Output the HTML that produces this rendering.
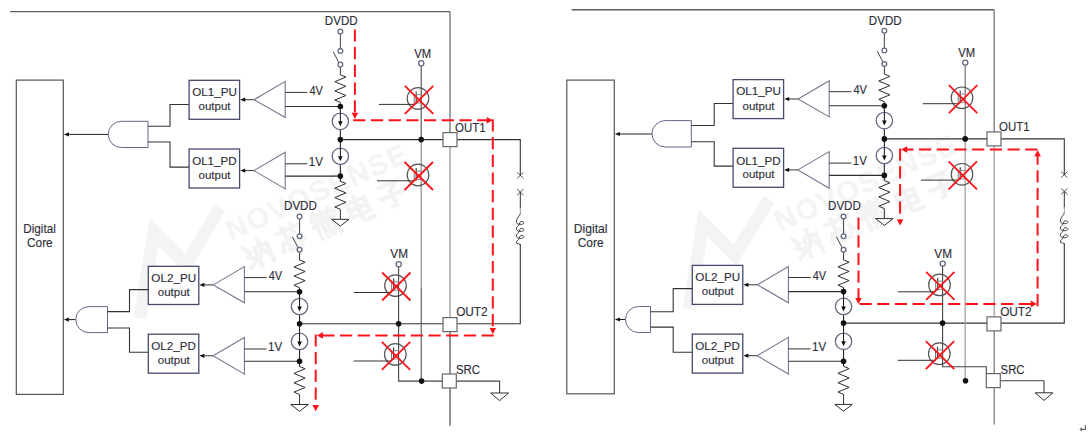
<!DOCTYPE html>
<html><head><meta charset="utf-8"><title>circuit</title>
<style>html,body{margin:0;padding:0;background:#fff;width:1092px;height:448px;overflow:hidden}</style>
</head><body><svg width="1092" height="448" viewBox="0 0 1092 448" style="display:block;font-family:'Liberation Sans',sans-serif"><rect width="100%" height="100%" fill="#fff"/><g transform="translate(0,0)"><polyline points="140,318 154,232 186,264 220,208" fill="none" stroke="#f4f4f4" stroke-width="13" stroke-linejoin="miter"/><text x="0" y="0" font-size="29" font-weight="bold" fill="#f4f4f4" letter-spacing="1.5" transform="translate(231,241) rotate(-24)">NOVOSENSE</text><path d="M2,3 L6,9 L3,12 L8,15 M2,21 L9,17 M11,7 L11,23 M11,7 L22,7 L22,23 M16,1 L16,10 L12,17 M16,10 L21,17" fill="none" stroke="#f3f3f3" stroke-width="3.6" stroke-linecap="square" transform="translate(258,253) rotate(-24) scale(1.2) translate(-12,-12)"/><path d="M2,4 L22,4 M8,1 L8,8 M16,1 L16,8 M4,13 L2,20 M8,11 L8,21 L18,21 L19,17 M12,12 L14,15 M20,12 L22,16" fill="none" stroke="#f3f3f3" stroke-width="3.6" stroke-linecap="square" transform="translate(291.5,238.2) rotate(-24) scale(1.2) translate(-12,-12)"/><path d="M6,1 L2,6 M7,6 L2,12 M5,10 L5,23 M9,3 L9,8 L15,8 L15,3 M12,1 L12,8 M9,11 L15,11 M10,14 L10,23 M14,14 L14,22 M19,1 L17,7 M17,5 L23,5 M18,9 L22,23 M22,9 L16,23" fill="none" stroke="#f3f3f3" stroke-width="3.6" stroke-linecap="square" transform="translate(325,223.4) rotate(-24) scale(1.2) translate(-12,-12)"/><path d="M4,5 L20,5 L20,17 L4,17 Z M4,11 L20,11 M12,1 L12,20 Q12,23 16,23 L22,23" fill="none" stroke="#f3f3f3" stroke-width="3.6" stroke-linecap="square" transform="translate(358.5,208.6) rotate(-24) scale(1.2) translate(-12,-12)"/><path d="M4,3 L19,3 L12,9 M12,9 L12,22 L9,22 M2,13 L22,13" fill="none" stroke="#f3f3f3" stroke-width="3.6" stroke-linecap="square" transform="translate(392,193.8) rotate(-24) scale(1.2) translate(-12,-12)"/></g><g transform="translate(549,-9)"><polyline points="140,318 154,232 186,264 220,208" fill="none" stroke="#f4f4f4" stroke-width="13" stroke-linejoin="miter"/><text x="0" y="0" font-size="29" font-weight="bold" fill="#f4f4f4" letter-spacing="1.5" transform="translate(231,241) rotate(-24)">NOVOSENSE</text><path d="M2,3 L6,9 L3,12 L8,15 M2,21 L9,17 M11,7 L11,23 M11,7 L22,7 L22,23 M16,1 L16,10 L12,17 M16,10 L21,17" fill="none" stroke="#f3f3f3" stroke-width="3.6" stroke-linecap="square" transform="translate(258,253) rotate(-24) scale(1.2) translate(-12,-12)"/><path d="M2,4 L22,4 M8,1 L8,8 M16,1 L16,8 M4,13 L2,20 M8,11 L8,21 L18,21 L19,17 M12,12 L14,15 M20,12 L22,16" fill="none" stroke="#f3f3f3" stroke-width="3.6" stroke-linecap="square" transform="translate(291.5,238.2) rotate(-24) scale(1.2) translate(-12,-12)"/><path d="M6,1 L2,6 M7,6 L2,12 M5,10 L5,23 M9,3 L9,8 L15,8 L15,3 M12,1 L12,8 M9,11 L15,11 M10,14 L10,23 M14,14 L14,22 M19,1 L17,7 M17,5 L23,5 M18,9 L22,23 M22,9 L16,23" fill="none" stroke="#f3f3f3" stroke-width="3.6" stroke-linecap="square" transform="translate(325,223.4) rotate(-24) scale(1.2) translate(-12,-12)"/><path d="M4,5 L20,5 L20,17 L4,17 Z M4,11 L20,11 M12,1 L12,20 Q12,23 16,23 L22,23" fill="none" stroke="#f3f3f3" stroke-width="3.6" stroke-linecap="square" transform="translate(358.5,208.6) rotate(-24) scale(1.2) translate(-12,-12)"/><path d="M4,3 L19,3 L12,9 M12,9 L12,22 L9,22 M2,13 L22,13" fill="none" stroke="#f3f3f3" stroke-width="3.6" stroke-linecap="square" transform="translate(392,193.8) rotate(-24) scale(1.2) translate(-12,-12)"/></g><line x1="10" y1="11.6" x2="450" y2="11.6" stroke="#5e5e5e" stroke-width="1.4"/><line x1="450" y1="11.6" x2="450" y2="133" stroke="#6e6e6e" stroke-width="1.3"/><line x1="450" y1="146" x2="450" y2="318" stroke="#a3a3a3" stroke-width="1.4"/><line x1="450" y1="331" x2="450" y2="425.7" stroke="#595959" stroke-width="1.3"/><rect x="16.3" y="80.1" width="47" height="314.3" stroke="#555" stroke-width="1.2" fill="#fff"/><text x="23.24" y="232.9" font-size="12" fill="#2d2d38" stroke="#2d2d38" stroke-width="0.12" textLength="32.65" lengthAdjust="spacingAndGlyphs">Digital</text><text x="27" y="246.6" font-size="12" fill="#2d2d38" stroke="#2d2d38" stroke-width="0.12" textLength="25.73" lengthAdjust="spacingAndGlyphs">Core</text><line x1="108.3" y1="134.4" x2="66" y2="134.4" stroke="#222" stroke-width="1"/><polygon points="63.9,134.4 68.9,132.3 68.9,136.5" fill="#111"/><path d="M121.35,121.3 L148,121.3 L148,147.5 L121.35,147.5 A13.1,13.1 0 0 1 121.35,121.3 Z" stroke="#636789" stroke-width="1" fill="#fff"/><polyline points="148,126.3 170,126.3 170,104.5 189.1,104.5" stroke="#333" stroke-width="1.1" fill="none" stroke-linejoin="miter"/><polyline points="148,142 170,142 170,167.1 189.1,167.1" stroke="#333" stroke-width="1.1" fill="none" stroke-linejoin="miter"/><line x1="75.8" y1="319.6" x2="66" y2="319.6" stroke="#222" stroke-width="1"/><polygon points="63.9,319.6 68.9,317.5 68.9,321.7" fill="#111"/><path d="M88.75,306.6 L107.5,306.6 L107.5,332.6 L88.75,332.6 A13,13 0 0 1 88.75,306.6 Z" stroke="#636789" stroke-width="1" fill="#fff"/><polyline points="107.5,311.6 129.5,311.6 129.5,289.6 148.3,289.6" stroke="#333" stroke-width="1.1" fill="none" stroke-linejoin="miter"/><polyline points="107.5,328 129.5,328 129.5,352.3 148.3,352.3" stroke="#333" stroke-width="1.1" fill="none" stroke-linejoin="miter"/><polyline points="340.3,139.6 520.3,139.6 520.3,175.4" stroke="#333" stroke-width="1.1" fill="none" stroke-linejoin="miter"/><polyline points="299.6,323.8 520.3,323.8 520.3,244.3" stroke="#333" stroke-width="1.1" fill="none" stroke-linejoin="miter"/><line x1="421.2" y1="65.6" x2="421.2" y2="139.6" stroke="#4a4a4a" stroke-width="1.1"/><line x1="421.2" y1="139.6" x2="421.2" y2="287.5" stroke="#8a8a8a" stroke-width="1.2"/><line x1="421.2" y1="287.5" x2="421.2" y2="381.1" stroke="#555" stroke-width="1.1"/><polyline points="398.6,266.6 398.6,381.1 442,381.1" stroke="#444" stroke-width="1.1" fill="none" stroke-linejoin="miter"/><polyline points="456.4,381.1 499.6,381.1 499.6,393" stroke="#444" stroke-width="1.1" fill="none" stroke-linejoin="miter"/><polygon points="490.65,393 508.55,393 499.6,400.6" stroke="#2e2e2e" stroke-width="1" fill="#fff" stroke-linejoin="miter"/><rect x="189.1" y="80.3" width="50.5" height="39" stroke="#454a6e" stroke-width="1.3" fill="#fff"/><line x1="254.1" y1="99.7" x2="242.6" y2="99.7" stroke="#333" stroke-width="1"/><polygon points="240.2,99.7 245.2,97.6 245.2,101.8" fill="#111"/><polygon points="254.1,99.7 285.2,81.4 285.2,117.6" stroke="#74778f" stroke-width="1.1" fill="#fff" stroke-linejoin="miter"/><line x1="285.2" y1="92.4" x2="307.4" y2="92.4" stroke="#333" stroke-width="1"/><line x1="285.2" y1="106.5" x2="340.35" y2="106.5" stroke="#2e2e2e" stroke-width="1.1"/><rect x="189.1" y="149" width="50.5" height="39" stroke="#454a6e" stroke-width="1.3" fill="#fff"/><line x1="253.9" y1="170.6" x2="242.6" y2="170.6" stroke="#333" stroke-width="1"/><polygon points="240.2,170.6 245.2,168.5 245.2,172.7" fill="#111"/><polygon points="253.9,170.6 285.2,152.3 285.2,188.9" stroke="#74778f" stroke-width="1.1" fill="#fff" stroke-linejoin="miter"/><line x1="285.2" y1="163.8" x2="307.4" y2="163.8" stroke="#333" stroke-width="1"/><line x1="285.2" y1="176.1" x2="340.35" y2="176.1" stroke="#2e2e2e" stroke-width="1.1"/><text x="192.15" y="96.1" font-size="11.5" fill="#2d2d38" stroke="#2d2d38" stroke-width="0.12" textLength="44.75" lengthAdjust="spacingAndGlyphs">OL1_PU</text><text x="198.52" y="110.2" font-size="11.5" fill="#2d2d38" stroke="#2d2d38" stroke-width="0.12" textLength="32.07" lengthAdjust="spacingAndGlyphs">output</text><text x="192.15" y="165.2" font-size="11.5" fill="#2d2d38" stroke="#2d2d38" stroke-width="0.12" textLength="44.4" lengthAdjust="spacingAndGlyphs">OL1_PD</text><text x="198.52" y="178.9" font-size="11.5" fill="#2d2d38" stroke="#2d2d38" stroke-width="0.12" textLength="32.07" lengthAdjust="spacingAndGlyphs">output</text><text x="309.45" y="94.8" font-size="12" fill="#2d2d38" stroke="#2d2d38" stroke-width="0.12" textLength="13.5" lengthAdjust="spacingAndGlyphs">4V</text><text x="308.82" y="165.6" font-size="12" fill="#2d2d38" stroke="#2d2d38" stroke-width="0.12" textLength="14.13" lengthAdjust="spacingAndGlyphs">1V</text><text x="324.85" y="25.2" font-size="12" fill="#2d2d38" stroke="#2d2d38" stroke-width="0.12" textLength="32.8" lengthAdjust="spacingAndGlyphs">DVDD</text><line x1="340.35" y1="33.6" x2="340.35" y2="48.9" stroke="#444" stroke-width="1"/><line x1="338.95" y1="62.7" x2="333.2" y2="51.6" stroke="#444" stroke-width="1"/><line x1="340.35" y1="66.8" x2="340.35" y2="74.8" stroke="#333" stroke-width="1"/><polyline points="340.35,74.8 345.95,77.1 334.75,81.7 345.95,86.3 334.75,90.9 345.95,95.5 334.75,100.1 340.35,102.4" stroke="#2e2e2e" stroke-width="1" fill="none" stroke-linejoin="miter"/><line x1="340.35" y1="102.4" x2="340.35" y2="106.5" stroke="#333" stroke-width="1"/><circle cx="340.35" cy="31.4" r="2.4" stroke="#62667f" stroke-width="1.25" fill="#fff"/><circle cx="340.35" cy="51.1" r="2.4" stroke="#62667f" stroke-width="1.25" fill="#fff"/><circle cx="340.35" cy="64.6" r="2.4" stroke="#62667f" stroke-width="1.25" fill="#fff"/><line x1="340.35" y1="106.5" x2="340.35" y2="181.2" stroke="#222" stroke-width="1.1"/><circle cx="340.35" cy="121.3" r="8.2" stroke="#62667f" stroke-width="1.25" fill="#fff"/><line x1="340.35" y1="113.1" x2="340.35" y2="122.3" stroke="#111" stroke-width="1"/><polygon points="340.35,126.3 338.05,121.3 342.65,121.3" fill="#111"/><circle cx="340.35" cy="156.2" r="8.2" stroke="#62667f" stroke-width="1.25" fill="#fff"/><line x1="340.35" y1="148" x2="340.35" y2="157.2" stroke="#111" stroke-width="1"/><polygon points="340.35,161.2 338.05,156.2 342.65,156.2" fill="#111"/><polyline points="340.35,181.2 345.95,183.54 334.75,188.22 345.95,192.91 334.75,197.59 345.95,202.28 334.75,206.96 340.35,209.3" stroke="#2e2e2e" stroke-width="1" fill="none" stroke-linejoin="miter"/><line x1="340.35" y1="209.3" x2="340.35" y2="219.3" stroke="#333" stroke-width="1"/><polygon points="331.6,219.3 349.1,219.3 340.35,226.1" stroke="#2e2e2e" stroke-width="1" fill="#fff" stroke-linejoin="miter"/><circle cx="340.35" cy="106.5" r="2.8" fill="#111"/><circle cx="340.35" cy="139.6" r="2.8" fill="#111"/><circle cx="340.35" cy="176.1" r="2.8" fill="#111"/><rect x="148.3" y="266.3" width="50.5" height="38.2" stroke="#454a6e" stroke-width="1.3" fill="#fff"/><line x1="213.3" y1="284.9" x2="201.8" y2="284.9" stroke="#333" stroke-width="1"/><polygon points="199.4,284.9 204.4,282.8 204.4,287" fill="#111"/><polygon points="213.3,284.9 244.4,266.6 244.4,302.8" stroke="#74778f" stroke-width="1.1" fill="#fff" stroke-linejoin="miter"/><line x1="244.4" y1="277.6" x2="266.6" y2="277.6" stroke="#333" stroke-width="1"/><line x1="244.4" y1="291.7" x2="299.55" y2="291.7" stroke="#2e2e2e" stroke-width="1.1"/><rect x="148.3" y="334.2" width="50.5" height="39" stroke="#454a6e" stroke-width="1.3" fill="#fff"/><line x1="213.1" y1="355.8" x2="201.8" y2="355.8" stroke="#333" stroke-width="1"/><polygon points="199.4,355.8 204.4,353.7 204.4,357.9" fill="#111"/><polygon points="213.1,355.8 244.4,337.5 244.4,374.1" stroke="#74778f" stroke-width="1.1" fill="#fff" stroke-linejoin="miter"/><line x1="244.4" y1="349" x2="266.6" y2="349" stroke="#333" stroke-width="1"/><line x1="244.4" y1="361.3" x2="299.55" y2="361.3" stroke="#2e2e2e" stroke-width="1.1"/><text x="151.35" y="282.3" font-size="11.5" fill="#2d2d38" stroke="#2d2d38" stroke-width="0.12" textLength="44.75" lengthAdjust="spacingAndGlyphs">OL2_PU</text><text x="157.72" y="296.4" font-size="11.5" fill="#2d2d38" stroke="#2d2d38" stroke-width="0.12" textLength="32.07" lengthAdjust="spacingAndGlyphs">output</text><text x="151.35" y="350.4" font-size="11.5" fill="#2d2d38" stroke="#2d2d38" stroke-width="0.12" textLength="44.4" lengthAdjust="spacingAndGlyphs">OL2_PD</text><text x="157.72" y="364.1" font-size="11.5" fill="#2d2d38" stroke="#2d2d38" stroke-width="0.12" textLength="32.07" lengthAdjust="spacingAndGlyphs">output</text><text x="268.65" y="280" font-size="12" fill="#2d2d38" stroke="#2d2d38" stroke-width="0.12" textLength="13.5" lengthAdjust="spacingAndGlyphs">4V</text><text x="268.02" y="350.8" font-size="12" fill="#2d2d38" stroke="#2d2d38" stroke-width="0.12" textLength="14.13" lengthAdjust="spacingAndGlyphs">1V</text><text x="284.05" y="210.4" font-size="12" fill="#2d2d38" stroke="#2d2d38" stroke-width="0.12" textLength="32.8" lengthAdjust="spacingAndGlyphs">DVDD</text><line x1="299.55" y1="218.8" x2="299.55" y2="234.1" stroke="#444" stroke-width="1"/><line x1="298.15" y1="247.9" x2="292.4" y2="236.8" stroke="#444" stroke-width="1"/><line x1="299.55" y1="252" x2="299.55" y2="260" stroke="#333" stroke-width="1"/><polyline points="299.55,260 305.15,262.3 293.95,266.9 305.15,271.5 293.95,276.1 305.15,280.7 293.95,285.3 299.55,287.6" stroke="#2e2e2e" stroke-width="1" fill="none" stroke-linejoin="miter"/><line x1="299.55" y1="287.6" x2="299.55" y2="291.7" stroke="#333" stroke-width="1"/><circle cx="299.55" cy="216.6" r="2.4" stroke="#62667f" stroke-width="1.25" fill="#fff"/><circle cx="299.55" cy="236.3" r="2.4" stroke="#62667f" stroke-width="1.25" fill="#fff"/><circle cx="299.55" cy="249.8" r="2.4" stroke="#62667f" stroke-width="1.25" fill="#fff"/><line x1="299.55" y1="291.7" x2="299.55" y2="366.4" stroke="#222" stroke-width="1.1"/><circle cx="299.55" cy="306.5" r="8.2" stroke="#62667f" stroke-width="1.25" fill="#fff"/><line x1="299.55" y1="298.3" x2="299.55" y2="307.5" stroke="#111" stroke-width="1"/><polygon points="299.55,311.5 297.25,306.5 301.85,306.5" fill="#111"/><circle cx="299.55" cy="341.4" r="8.2" stroke="#62667f" stroke-width="1.25" fill="#fff"/><line x1="299.55" y1="333.2" x2="299.55" y2="342.4" stroke="#111" stroke-width="1"/><polygon points="299.55,346.4 297.25,341.4 301.85,341.4" fill="#111"/><polyline points="299.55,366.4 305.15,368.74 293.95,373.42 305.15,378.11 293.95,382.79 305.15,387.48 293.95,392.16 299.55,394.5" stroke="#2e2e2e" stroke-width="1" fill="none" stroke-linejoin="miter"/><line x1="299.55" y1="394.5" x2="299.55" y2="404.5" stroke="#333" stroke-width="1"/><polygon points="290.8,404.5 308.3,404.5 299.55,411.3" stroke="#2e2e2e" stroke-width="1" fill="#fff" stroke-linejoin="miter"/><circle cx="299.55" cy="291.7" r="2.8" fill="#111"/><circle cx="299.55" cy="323.8" r="2.8" fill="#111"/><circle cx="299.55" cy="361.3" r="2.8" fill="#111"/><circle cx="418" cy="98.5" r="10.8" stroke="#555" stroke-width="1.2" fill="none"/><line x1="414.2" y1="94.5" x2="414.2" y2="104.4" stroke="#777" stroke-width="1"/><line x1="416.2" y1="91.5" x2="416.2" y2="104" stroke="#444" stroke-width="1.2"/><line x1="416.2" y1="94.7" x2="421.2" y2="94.7" stroke="#888" stroke-width="1"/><line x1="416.2" y1="103" x2="421.2" y2="103" stroke="#888" stroke-width="1"/><line x1="378.8" y1="104.4" x2="414.2" y2="104.4" stroke="#333" stroke-width="1"/><circle cx="418" cy="175" r="10.8" stroke="#555" stroke-width="1.2" fill="none"/><line x1="414.2" y1="171" x2="414.2" y2="180.8" stroke="#777" stroke-width="1"/><line x1="416.2" y1="168" x2="416.2" y2="180.5" stroke="#444" stroke-width="1.2"/><line x1="416.2" y1="171.2" x2="421.2" y2="171.2" stroke="#888" stroke-width="1"/><line x1="416.2" y1="179.5" x2="421.2" y2="179.5" stroke="#888" stroke-width="1"/><line x1="377" y1="180.8" x2="414.2" y2="180.8" stroke="#333" stroke-width="1"/><circle cx="395.5" cy="285.6" r="10.8" stroke="#555" stroke-width="1.2" fill="none"/><line x1="391.7" y1="281.6" x2="391.7" y2="292.5" stroke="#777" stroke-width="1"/><line x1="393.7" y1="278.6" x2="393.7" y2="291.1" stroke="#444" stroke-width="1.2"/><line x1="393.7" y1="281.8" x2="398.6" y2="281.8" stroke="#888" stroke-width="1"/><line x1="393.7" y1="290.1" x2="398.6" y2="290.1" stroke="#888" stroke-width="1"/><line x1="353.8" y1="292.5" x2="391.7" y2="292.5" stroke="#333" stroke-width="1"/><circle cx="395.3" cy="354.4" r="10.8" stroke="#555" stroke-width="1.2" fill="none"/><line x1="391.5" y1="350.4" x2="391.5" y2="361" stroke="#777" stroke-width="1"/><line x1="393.5" y1="347.4" x2="393.5" y2="359.9" stroke="#444" stroke-width="1.2"/><line x1="393.5" y1="350.6" x2="398.6" y2="350.6" stroke="#888" stroke-width="1"/><line x1="393.5" y1="358.9" x2="398.6" y2="358.9" stroke="#888" stroke-width="1"/><line x1="353.7" y1="361" x2="391.5" y2="361" stroke="#333" stroke-width="1"/><circle cx="421.25" cy="63.3" r="2.6" stroke="#62667f" stroke-width="1.25" fill="#fff"/><circle cx="398.7" cy="264.3" r="2.6" stroke="#62667f" stroke-width="1.25" fill="#fff"/><text x="414.15" y="57.6" font-size="12" fill="#2d2d38" stroke="#2d2d38" stroke-width="0.12" textLength="16.87" lengthAdjust="spacingAndGlyphs">VM</text><text x="390.35" y="258.3" font-size="12" fill="#2d2d38" stroke="#2d2d38" stroke-width="0.12" textLength="17.72" lengthAdjust="spacingAndGlyphs">VM</text><circle cx="421.2" cy="139.6" r="2.8" fill="#111"/><circle cx="398.6" cy="323.8" r="2.8" fill="#111"/><circle cx="421.6" cy="381.1" r="2.8" fill="#111"/><line x1="520.3" y1="175.4" x2="520.3" y2="175.4" stroke="#333" stroke-width="1"/><line x1="517.1" y1="172.4" x2="523.5" y2="178.4" stroke="#444" stroke-width="0.9"/><line x1="523.5" y1="172.4" x2="517.1" y2="178.4" stroke="#444" stroke-width="0.9"/><line x1="517.1" y1="189.1" x2="523.5" y2="195.1" stroke="#444" stroke-width="0.9"/><line x1="523.5" y1="189.1" x2="517.1" y2="195.1" stroke="#444" stroke-width="0.9"/><line x1="520.3" y1="192.1" x2="520.3" y2="208.2" stroke="#333" stroke-width="1"/><line x1="520.3" y1="208.2" x2="520.3" y2="213.2" stroke="#999" stroke-width="1"/><path d="M520.3,213.2 C520.3,216.2 516.3,217.2 516.3,222 C516.3,225 523.8,225 523.8,223 C523.8,220.5 519.3,221 519.3,224 C519.3,226 516.3,226 516.3,229 C516.3,232 523.8,232 523.8,230 C523.8,227.5 519.3,228 519.3,231 C519.3,233 516.3,233 516.3,236 C516.3,239 523.8,239 523.8,237 C523.8,234.5 519.3,235 519.3,238 C519.3,240 516.3,240 516.3,243 C516.3,244 520.3,243 520.3,245 " stroke="#444" stroke-width="1" fill="none"/><line x1="520.3" y1="245" x2="520.3" y2="244.3" stroke="#333" stroke-width="1"/><rect x="443" y="132.6" width="14" height="14" stroke="#666" stroke-width="1.2" fill="#fff"/><rect x="443" y="317.6" width="14" height="14" stroke="#666" stroke-width="1.2" fill="#fff"/><rect x="442.3" y="374" width="14" height="14" stroke="#666" stroke-width="1.2" fill="#fff"/><text x="455.06" y="132" font-size="12" fill="#2d2d38" stroke="#2d2d38" stroke-width="0.12" textLength="30.6" lengthAdjust="spacingAndGlyphs">OUT1</text><text x="456.14" y="316.3" font-size="12" fill="#2d2d38" stroke="#2d2d38" stroke-width="0.12" textLength="31.56" lengthAdjust="spacingAndGlyphs">OUT2</text><text x="455.88" y="373.8" font-size="12" fill="#2d2d38" stroke="#2d2d38" stroke-width="0.12" textLength="24.16" lengthAdjust="spacingAndGlyphs">SRC</text><line x1="404.9" y1="85.9" x2="433.3" y2="113.9" stroke="#fd1219" stroke-width="1.8"/><line x1="433.3" y1="85.9" x2="404.9" y2="113.9" stroke="#fd1219" stroke-width="1.8"/><line x1="404.6" y1="162" x2="433" y2="190" stroke="#fd1219" stroke-width="1.8"/><line x1="433" y1="162" x2="404.6" y2="190" stroke="#fd1219" stroke-width="1.8"/><line x1="382.1" y1="272.5" x2="410.5" y2="300.5" stroke="#fd1219" stroke-width="1.8"/><line x1="410.5" y1="272.5" x2="382.1" y2="300.5" stroke="#fd1219" stroke-width="1.8"/><line x1="381.8" y1="341.9" x2="410.2" y2="369.9" stroke="#fd1219" stroke-width="1.8"/><line x1="410.2" y1="341.9" x2="381.8" y2="369.9" stroke="#fd1219" stroke-width="1.8"/><line x1="354.9" y1="29.4" x2="354.9" y2="113.3" stroke="#fd1219" stroke-width="2" stroke-dasharray="12.2 5.5"/><polygon points="354.9,119 351.6,112.8 358.2,112.8" fill="#fd1219"/><line x1="353.2" y1="120.3" x2="487.2" y2="120.3" stroke="#fd1219" stroke-width="2" stroke-dasharray="12.2 5.5"/><polygon points="492.9,120.3 486.7,117 486.7,123.6" fill="#fd1219"/><line x1="492.8" y1="119.3" x2="492.8" y2="328.5" stroke="#fd1219" stroke-width="2" stroke-dasharray="12.2 5.5"/><polygon points="492.8,334.2 489.5,328 496.1,328" fill="#fd1219"/><line x1="493.8" y1="335.4" x2="322.5" y2="335.4" stroke="#fd1219" stroke-width="2" stroke-dasharray="12.2 5.5"/><polygon points="316.8,335.4 323,332.1 323,338.7" fill="#fd1219"/><line x1="315.7" y1="334.4" x2="315.7" y2="405.5" stroke="#fd1219" stroke-width="2" stroke-dasharray="12.2 5.5"/><polygon points="315.7,411.2 312.4,405 319,405" fill="#fd1219"/><line x1="571.6" y1="9.8" x2="994.2" y2="9.8" stroke="#5e5e5e" stroke-width="1.4"/><line x1="994.2" y1="9.8" x2="994.2" y2="132" stroke="#787878" stroke-width="1.3"/><line x1="994.2" y1="145" x2="994.2" y2="317" stroke="#a8a8a8" stroke-width="1.4"/><line x1="994.2" y1="330" x2="994.2" y2="424.6" stroke="#7e7e7e" stroke-width="1.3"/><rect x="566.8" y="80.1" width="47.5" height="313.7" stroke="#555" stroke-width="1.2" fill="#fff"/><text x="573.8" y="232.8" font-size="12" fill="#2d2d38" stroke="#2d2d38" stroke-width="0.12" textLength="33.71" lengthAdjust="spacingAndGlyphs">Digital</text><text x="577.69" y="246.6" font-size="12" fill="#2d2d38" stroke="#2d2d38" stroke-width="0.12" textLength="25.83" lengthAdjust="spacingAndGlyphs">Core</text><line x1="652" y1="134" x2="617" y2="134" stroke="#222" stroke-width="1"/><polygon points="614.9,134 619.9,131.9 619.9,136.1" fill="#111"/><path d="M665.2,120.6 L691.3,120.6 L691.3,147 L665.2,147 A13.2,13.2 0 0 1 665.2,120.6 Z" stroke="#636789" stroke-width="1" fill="#fff"/><polyline points="691.3,125.5 714.2,125.5 714.2,103.5 733.1,103.5" stroke="#333" stroke-width="1.1" fill="none" stroke-linejoin="miter"/><polyline points="691.3,141.8 714.2,141.8 714.2,166.1 733.1,166.1" stroke="#333" stroke-width="1.1" fill="none" stroke-linejoin="miter"/><line x1="625.5" y1="319.5" x2="617" y2="319.5" stroke="#222" stroke-width="1"/><polygon points="614.9,319.5 619.9,317.4 619.9,321.6" fill="#111"/><path d="M638.5,306.5 L650.5,306.5 L650.5,332.5 L638.5,332.5 A13,13 0 0 1 638.5,306.5 Z" stroke="#636789" stroke-width="1" fill="#fff"/><polyline points="650.5,311.7 673.2,311.7 673.2,288.6 692.1,288.6" stroke="#333" stroke-width="1.1" fill="none" stroke-linejoin="miter"/><polyline points="650.5,327.1 673.2,327.1 673.2,352.3 692.1,352.3" stroke="#333" stroke-width="1.1" fill="none" stroke-linejoin="miter"/><polyline points="884.3,138.9 1064.3,138.9 1064.3,174.7" stroke="#333" stroke-width="1.1" fill="none" stroke-linejoin="miter"/><polyline points="843.6,323.1 1064.3,323.1 1064.3,243.6" stroke="#333" stroke-width="1.1" fill="none" stroke-linejoin="miter"/><line x1="965.2" y1="64.9" x2="965.2" y2="138.9" stroke="#666" stroke-width="1.1"/><line x1="965.2" y1="138.9" x2="965.2" y2="380.8" stroke="#a0a0a0" stroke-width="1.3"/><polyline points="942.6,265.9 942.6,366.7 986.3,366.7 986.3,373.4" stroke="#444" stroke-width="1.1" fill="none" stroke-linejoin="miter"/><polyline points="1000.3,380.8 1044,380.8 1044,392.8" stroke="#444" stroke-width="1.1" fill="none" stroke-linejoin="miter"/><polygon points="1035.05,392.8 1052.95,392.8 1044,400.4" stroke="#2e2e2e" stroke-width="1" fill="#fff" stroke-linejoin="miter"/><rect x="733.1" y="79.6" width="50.5" height="39" stroke="#454a6e" stroke-width="1.3" fill="#fff"/><line x1="798.1" y1="99" x2="786.6" y2="99" stroke="#333" stroke-width="1"/><polygon points="784.2,99 789.2,96.9 789.2,101.1" fill="#111"/><polygon points="798.1,99 829.2,80.7 829.2,116.9" stroke="#74778f" stroke-width="1.1" fill="#fff" stroke-linejoin="miter"/><line x1="829.2" y1="91.7" x2="851.4" y2="91.7" stroke="#333" stroke-width="1"/><line x1="829.2" y1="105.8" x2="884.35" y2="105.8" stroke="#2e2e2e" stroke-width="1.1"/><rect x="733.1" y="148.3" width="50.5" height="39" stroke="#454a6e" stroke-width="1.3" fill="#fff"/><line x1="797.9" y1="169.9" x2="786.6" y2="169.9" stroke="#333" stroke-width="1"/><polygon points="784.2,169.9 789.2,167.8 789.2,172" fill="#111"/><polygon points="797.9,169.9 829.2,151.6 829.2,188.2" stroke="#74778f" stroke-width="1.1" fill="#fff" stroke-linejoin="miter"/><line x1="829.2" y1="163.1" x2="851.4" y2="163.1" stroke="#333" stroke-width="1"/><line x1="829.2" y1="175.4" x2="884.35" y2="175.4" stroke="#2e2e2e" stroke-width="1.1"/><text x="736.15" y="95.4" font-size="11.5" fill="#2d2d38" stroke="#2d2d38" stroke-width="0.12" textLength="44.75" lengthAdjust="spacingAndGlyphs">OL1_PU</text><text x="742.52" y="109.5" font-size="11.5" fill="#2d2d38" stroke="#2d2d38" stroke-width="0.12" textLength="32.07" lengthAdjust="spacingAndGlyphs">output</text><text x="736.15" y="164.5" font-size="11.5" fill="#2d2d38" stroke="#2d2d38" stroke-width="0.12" textLength="44.4" lengthAdjust="spacingAndGlyphs">OL1_PD</text><text x="742.52" y="178.2" font-size="11.5" fill="#2d2d38" stroke="#2d2d38" stroke-width="0.12" textLength="32.07" lengthAdjust="spacingAndGlyphs">output</text><text x="853.45" y="94.1" font-size="12" fill="#2d2d38" stroke="#2d2d38" stroke-width="0.12" textLength="13.5" lengthAdjust="spacingAndGlyphs">4V</text><text x="852.82" y="164.9" font-size="12" fill="#2d2d38" stroke="#2d2d38" stroke-width="0.12" textLength="14.13" lengthAdjust="spacingAndGlyphs">1V</text><text x="868.85" y="24.5" font-size="12" fill="#2d2d38" stroke="#2d2d38" stroke-width="0.12" textLength="32.8" lengthAdjust="spacingAndGlyphs">DVDD</text><line x1="884.35" y1="32.9" x2="884.35" y2="48.2" stroke="#444" stroke-width="1"/><line x1="882.95" y1="62" x2="877.2" y2="50.9" stroke="#444" stroke-width="1"/><line x1="884.35" y1="66.1" x2="884.35" y2="74.1" stroke="#333" stroke-width="1"/><polyline points="884.35,74.1 889.95,76.4 878.75,81 889.95,85.6 878.75,90.2 889.95,94.8 878.75,99.4 884.35,101.7" stroke="#2e2e2e" stroke-width="1" fill="none" stroke-linejoin="miter"/><line x1="884.35" y1="101.7" x2="884.35" y2="105.8" stroke="#333" stroke-width="1"/><circle cx="884.35" cy="30.7" r="2.4" stroke="#62667f" stroke-width="1.25" fill="#fff"/><circle cx="884.35" cy="50.4" r="2.4" stroke="#62667f" stroke-width="1.25" fill="#fff"/><circle cx="884.35" cy="63.9" r="2.4" stroke="#62667f" stroke-width="1.25" fill="#fff"/><line x1="884.35" y1="105.8" x2="884.35" y2="180.5" stroke="#222" stroke-width="1.1"/><circle cx="884.35" cy="120.6" r="8.2" stroke="#62667f" stroke-width="1.25" fill="#fff"/><line x1="884.35" y1="112.4" x2="884.35" y2="121.6" stroke="#111" stroke-width="1"/><polygon points="884.35,125.6 882.05,120.6 886.65,120.6" fill="#111"/><circle cx="884.35" cy="155.5" r="8.2" stroke="#62667f" stroke-width="1.25" fill="#fff"/><line x1="884.35" y1="147.3" x2="884.35" y2="156.5" stroke="#111" stroke-width="1"/><polygon points="884.35,160.5 882.05,155.5 886.65,155.5" fill="#111"/><polyline points="884.35,180.5 889.95,182.84 878.75,187.53 889.95,192.21 878.75,196.89 889.95,201.58 878.75,206.26 884.35,208.6" stroke="#2e2e2e" stroke-width="1" fill="none" stroke-linejoin="miter"/><line x1="884.35" y1="208.6" x2="884.35" y2="218.6" stroke="#333" stroke-width="1"/><polygon points="875.6,218.6 893.1,218.6 884.35,225.4" stroke="#2e2e2e" stroke-width="1" fill="#fff" stroke-linejoin="miter"/><circle cx="884.35" cy="105.8" r="2.8" fill="#111"/><circle cx="884.35" cy="138.9" r="2.8" fill="#111"/><circle cx="884.35" cy="175.4" r="2.8" fill="#111"/><rect x="692.3" y="265.4" width="50.5" height="39" stroke="#454a6e" stroke-width="1.3" fill="#fff"/><line x1="757.3" y1="284.8" x2="745.8" y2="284.8" stroke="#333" stroke-width="1"/><polygon points="743.4,284.8 748.4,282.7 748.4,286.9" fill="#111"/><polygon points="757.3,284.8 788.4,266.5 788.4,302.7" stroke="#74778f" stroke-width="1.1" fill="#fff" stroke-linejoin="miter"/><line x1="788.4" y1="277.5" x2="810.6" y2="277.5" stroke="#333" stroke-width="1"/><line x1="788.4" y1="291.6" x2="843.55" y2="291.6" stroke="#2e2e2e" stroke-width="1.1"/><rect x="692.3" y="334.1" width="50.5" height="39" stroke="#454a6e" stroke-width="1.3" fill="#fff"/><line x1="757.1" y1="355.7" x2="745.8" y2="355.7" stroke="#333" stroke-width="1"/><polygon points="743.4,355.7 748.4,353.6 748.4,357.8" fill="#111"/><polygon points="757.1,355.7 788.4,337.4 788.4,374" stroke="#74778f" stroke-width="1.1" fill="#fff" stroke-linejoin="miter"/><line x1="788.4" y1="348.9" x2="810.6" y2="348.9" stroke="#333" stroke-width="1"/><line x1="788.4" y1="361.2" x2="843.55" y2="361.2" stroke="#2e2e2e" stroke-width="1.1"/><text x="695.35" y="281.2" font-size="11.5" fill="#2d2d38" stroke="#2d2d38" stroke-width="0.12" textLength="44.75" lengthAdjust="spacingAndGlyphs">OL2_PU</text><text x="701.72" y="295.3" font-size="11.5" fill="#2d2d38" stroke="#2d2d38" stroke-width="0.12" textLength="32.07" lengthAdjust="spacingAndGlyphs">output</text><text x="695.35" y="350.3" font-size="11.5" fill="#2d2d38" stroke="#2d2d38" stroke-width="0.12" textLength="44.4" lengthAdjust="spacingAndGlyphs">OL2_PD</text><text x="701.72" y="364" font-size="11.5" fill="#2d2d38" stroke="#2d2d38" stroke-width="0.12" textLength="32.07" lengthAdjust="spacingAndGlyphs">output</text><text x="812.65" y="279.9" font-size="12" fill="#2d2d38" stroke="#2d2d38" stroke-width="0.12" textLength="13.5" lengthAdjust="spacingAndGlyphs">4V</text><text x="812.02" y="350.7" font-size="12" fill="#2d2d38" stroke="#2d2d38" stroke-width="0.12" textLength="14.13" lengthAdjust="spacingAndGlyphs">1V</text><text x="828.05" y="210.3" font-size="12" fill="#2d2d38" stroke="#2d2d38" stroke-width="0.12" textLength="32.8" lengthAdjust="spacingAndGlyphs">DVDD</text><line x1="843.55" y1="218.7" x2="843.55" y2="234" stroke="#444" stroke-width="1"/><line x1="842.15" y1="247.8" x2="836.4" y2="236.7" stroke="#444" stroke-width="1"/><line x1="843.55" y1="251.9" x2="843.55" y2="259.9" stroke="#333" stroke-width="1"/><polyline points="843.55,259.9 849.15,262.2 837.95,266.8 849.15,271.4 837.95,276 849.15,280.6 837.95,285.2 843.55,287.5" stroke="#2e2e2e" stroke-width="1" fill="none" stroke-linejoin="miter"/><line x1="843.55" y1="287.5" x2="843.55" y2="291.6" stroke="#333" stroke-width="1"/><circle cx="843.55" cy="216.5" r="2.4" stroke="#62667f" stroke-width="1.25" fill="#fff"/><circle cx="843.55" cy="236.2" r="2.4" stroke="#62667f" stroke-width="1.25" fill="#fff"/><circle cx="843.55" cy="249.7" r="2.4" stroke="#62667f" stroke-width="1.25" fill="#fff"/><line x1="843.55" y1="291.6" x2="843.55" y2="366.3" stroke="#222" stroke-width="1.1"/><circle cx="843.55" cy="306.4" r="8.2" stroke="#62667f" stroke-width="1.25" fill="#fff"/><line x1="843.55" y1="298.2" x2="843.55" y2="307.4" stroke="#111" stroke-width="1"/><polygon points="843.55,311.4 841.25,306.4 845.85,306.4" fill="#111"/><circle cx="843.55" cy="341.3" r="8.2" stroke="#62667f" stroke-width="1.25" fill="#fff"/><line x1="843.55" y1="333.1" x2="843.55" y2="342.3" stroke="#111" stroke-width="1"/><polygon points="843.55,346.3 841.25,341.3 845.85,341.3" fill="#111"/><polyline points="843.55,366.3 849.15,368.64 837.95,373.32 849.15,378.01 837.95,382.69 849.15,387.38 837.95,392.06 843.55,394.4" stroke="#2e2e2e" stroke-width="1" fill="none" stroke-linejoin="miter"/><line x1="843.55" y1="394.4" x2="843.55" y2="404.4" stroke="#333" stroke-width="1"/><polygon points="834.8,404.4 852.3,404.4 843.55,411.2" stroke="#2e2e2e" stroke-width="1" fill="#fff" stroke-linejoin="miter"/><circle cx="843.55" cy="291.6" r="2.8" fill="#111"/><circle cx="843.55" cy="323.1" r="2.8" fill="#111"/><circle cx="843.55" cy="361.2" r="2.8" fill="#111"/><circle cx="962" cy="97.8" r="10.8" stroke="#555" stroke-width="1.2" fill="none"/><line x1="958.2" y1="93.8" x2="958.2" y2="103.7" stroke="#777" stroke-width="1"/><line x1="960.2" y1="90.8" x2="960.2" y2="103.3" stroke="#444" stroke-width="1.2"/><line x1="960.2" y1="94" x2="965.2" y2="94" stroke="#888" stroke-width="1"/><line x1="960.2" y1="102.3" x2="965.2" y2="102.3" stroke="#888" stroke-width="1"/><line x1="922.8" y1="103.7" x2="958.2" y2="103.7" stroke="#333" stroke-width="1"/><circle cx="962" cy="174.3" r="10.8" stroke="#555" stroke-width="1.2" fill="none"/><line x1="958.2" y1="170.3" x2="958.2" y2="180.1" stroke="#777" stroke-width="1"/><line x1="960.2" y1="167.3" x2="960.2" y2="179.8" stroke="#444" stroke-width="1.2"/><line x1="960.2" y1="170.5" x2="965.2" y2="170.5" stroke="#888" stroke-width="1"/><line x1="960.2" y1="178.8" x2="965.2" y2="178.8" stroke="#888" stroke-width="1"/><line x1="921" y1="180.1" x2="958.2" y2="180.1" stroke="#333" stroke-width="1"/><circle cx="939.5" cy="284.9" r="10.8" stroke="#555" stroke-width="1.2" fill="none"/><line x1="935.7" y1="280.9" x2="935.7" y2="291.8" stroke="#777" stroke-width="1"/><line x1="937.7" y1="277.9" x2="937.7" y2="290.4" stroke="#444" stroke-width="1.2"/><line x1="937.7" y1="281.1" x2="942.6" y2="281.1" stroke="#888" stroke-width="1"/><line x1="937.7" y1="289.4" x2="942.6" y2="289.4" stroke="#888" stroke-width="1"/><line x1="897.8" y1="291.8" x2="935.7" y2="291.8" stroke="#333" stroke-width="1"/><circle cx="939.3" cy="353.7" r="10.8" stroke="#555" stroke-width="1.2" fill="none"/><line x1="935.5" y1="349.7" x2="935.5" y2="360.3" stroke="#777" stroke-width="1"/><line x1="937.5" y1="346.7" x2="937.5" y2="359.2" stroke="#444" stroke-width="1.2"/><line x1="937.5" y1="349.9" x2="942.6" y2="349.9" stroke="#888" stroke-width="1"/><line x1="937.5" y1="358.2" x2="942.6" y2="358.2" stroke="#888" stroke-width="1"/><line x1="897.7" y1="360.3" x2="935.5" y2="360.3" stroke="#333" stroke-width="1"/><circle cx="965.25" cy="62.6" r="2.6" stroke="#62667f" stroke-width="1.25" fill="#fff"/><circle cx="942.7" cy="263.6" r="2.6" stroke="#62667f" stroke-width="1.25" fill="#fff"/><text x="958.15" y="56.9" font-size="12" fill="#2d2d38" stroke="#2d2d38" stroke-width="0.12" textLength="16.87" lengthAdjust="spacingAndGlyphs">VM</text><text x="934.35" y="257.6" font-size="12" fill="#2d2d38" stroke="#2d2d38" stroke-width="0.12" textLength="17.72" lengthAdjust="spacingAndGlyphs">VM</text><circle cx="965.2" cy="138.9" r="2.8" fill="#111"/><circle cx="942.6" cy="323.1" r="2.8" fill="#111"/><circle cx="965.5" cy="380.8" r="2.8" fill="#111"/><line x1="1064.3" y1="174.7" x2="1064.3" y2="174.7" stroke="#333" stroke-width="1"/><line x1="1061.1" y1="171.7" x2="1067.5" y2="177.7" stroke="#444" stroke-width="0.9"/><line x1="1067.5" y1="171.7" x2="1061.1" y2="177.7" stroke="#444" stroke-width="0.9"/><line x1="1061.1" y1="188.4" x2="1067.5" y2="194.4" stroke="#444" stroke-width="0.9"/><line x1="1067.5" y1="188.4" x2="1061.1" y2="194.4" stroke="#444" stroke-width="0.9"/><line x1="1064.3" y1="191.4" x2="1064.3" y2="207.5" stroke="#333" stroke-width="1"/><line x1="1064.3" y1="207.5" x2="1064.3" y2="212.5" stroke="#999" stroke-width="1"/><path d="M1064.3,212.5 C1064.3,215.5 1060.3,216.5 1060.3,221.3 C1060.3,224.3 1067.8,224.3 1067.8,222.3 C1067.8,219.8 1063.3,220.3 1063.3,223.3 C1063.3,225.3 1060.3,225.3 1060.3,228.3 C1060.3,231.3 1067.8,231.3 1067.8,229.3 C1067.8,226.8 1063.3,227.3 1063.3,230.3 C1063.3,232.3 1060.3,232.3 1060.3,235.3 C1060.3,238.3 1067.8,238.3 1067.8,236.3 C1067.8,233.8 1063.3,234.3 1063.3,237.3 C1063.3,239.3 1060.3,239.3 1060.3,242.3 C1060.3,243.3 1064.3,242.3 1064.3,244.3 " stroke="#444" stroke-width="1" fill="none"/><line x1="1064.3" y1="244.3" x2="1064.3" y2="243.6" stroke="#333" stroke-width="1"/><rect x="987" y="131.9" width="14" height="14" stroke="#666" stroke-width="1.2" fill="#fff"/><rect x="987" y="316.9" width="14" height="14" stroke="#666" stroke-width="1.2" fill="#fff"/><rect x="986.3" y="373.6" width="14" height="14" stroke="#666" stroke-width="1.2" fill="#fff"/><text x="999.06" y="131.3" font-size="12" fill="#2d2d38" stroke="#2d2d38" stroke-width="0.12" textLength="30.6" lengthAdjust="spacingAndGlyphs">OUT1</text><text x="1000.14" y="315.6" font-size="12" fill="#2d2d38" stroke="#2d2d38" stroke-width="0.12" textLength="31.56" lengthAdjust="spacingAndGlyphs">OUT2</text><text x="1000.58" y="373.6" font-size="12" fill="#2d2d38" stroke="#2d2d38" stroke-width="0.12" textLength="23.95" lengthAdjust="spacingAndGlyphs">SRC</text><line x1="948.9" y1="85.2" x2="977.3" y2="113.2" stroke="#fd1219" stroke-width="1.8"/><line x1="977.3" y1="85.2" x2="948.9" y2="113.2" stroke="#fd1219" stroke-width="1.8"/><line x1="948.6" y1="161.3" x2="977" y2="189.3" stroke="#fd1219" stroke-width="1.8"/><line x1="977" y1="161.3" x2="948.6" y2="189.3" stroke="#fd1219" stroke-width="1.8"/><line x1="926.1" y1="271.8" x2="954.5" y2="299.8" stroke="#fd1219" stroke-width="1.8"/><line x1="954.5" y1="271.8" x2="926.1" y2="299.8" stroke="#fd1219" stroke-width="1.8"/><line x1="925.8" y1="341.2" x2="954.2" y2="369.2" stroke="#fd1219" stroke-width="1.8"/><line x1="954.2" y1="341.2" x2="925.8" y2="369.2" stroke="#fd1219" stroke-width="1.8"/><line x1="858.5" y1="217.5" x2="858.5" y2="298.4" stroke="#fd1219" stroke-width="2" stroke-dasharray="12.2 5.5"/><polygon points="858.5,304.1 855.2,297.9 861.8,297.9" fill="#fd1219"/><line x1="859.5" y1="303.9" x2="1031.2" y2="303.9" stroke="#fd1219" stroke-width="2" stroke-dasharray="12.2 5.5"/><polygon points="1036.9,303.9 1030.7,300.6 1030.7,307.2" fill="#fd1219"/><line x1="1037.6" y1="306.3" x2="1037.6" y2="155.7" stroke="#fd1219" stroke-width="2" stroke-dasharray="12.2 5.5"/><polygon points="1037.6,150 1034.3,156.2 1040.9,156.2" fill="#fd1219"/><line x1="1037.4" y1="149.5" x2="906.7" y2="149.5" stroke="#fd1219" stroke-width="2" stroke-dasharray="12.2 5.5"/><polygon points="901,149.5 907.2,146.2 907.2,152.8" fill="#fd1219"/><line x1="900.1" y1="148.5" x2="900.1" y2="219.9" stroke="#fd1219" stroke-width="2" stroke-dasharray="12.2 5.5"/><polygon points="900.1,225.6 896.8,219.4 903.4,219.4" fill="#fd1219"/><polyline points="1085.4,425 1085.4,429.4 1081.5,429.4" stroke="#666" stroke-width="1.1" fill="none" stroke-linejoin="miter"/><polygon points="1079.4,429.4 1082,427.3 1082,431.5" fill="#666"/></svg></body></html>
